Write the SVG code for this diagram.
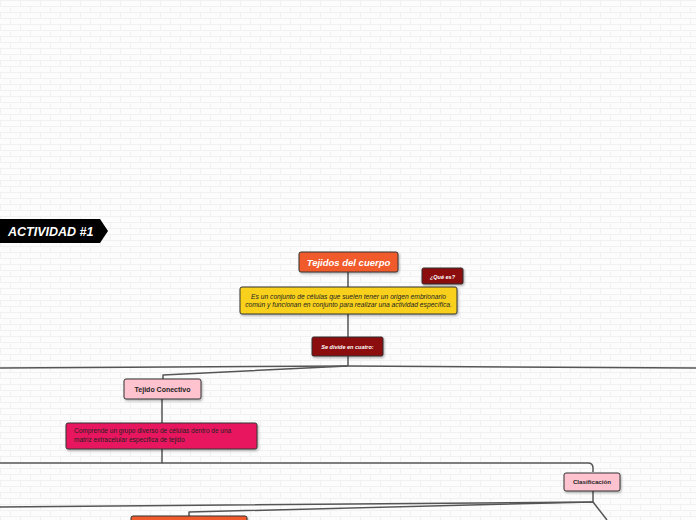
<svg xmlns="http://www.w3.org/2000/svg" width="696" height="520" viewBox="0 0 696 520">
<defs>
<pattern id="brick" width="40" height="12" patternUnits="userSpaceOnUse">
<rect width="40" height="12" fill="#fcfcfc"/>
<path d="M0 0.5H40M0 6.5H40M0.5 0V6M20.5 0V6M10.5 6V12M30.5 6V12" stroke="#f1f1f1" stroke-width="1" fill="none"/>
</pattern>
<filter id="sh" x="-10%" y="-20%" width="120%" height="160%">
<feDropShadow dx="1" dy="1.5" stdDeviation="1" flood-color="#000" flood-opacity="0.3"/>
</filter>
</defs>
<style>
.box{stroke:#333;stroke-width:1;filter:url(#sh)}
.ln{fill:none;stroke:#555;stroke-width:1.5;stroke-linejoin:round}
.t{font-family:"Liberation Sans",Arial,sans-serif}
</style>
<rect width="696" height="520" fill="url(#brick)"/>

<g id="connectors">
<path class="ln" d="M348 272V287"/>
<path class="ln" d="M348 314V338"/>
<path class="ln" d="M348 356V366"/>
<path class="ln" d="M0 368L348 366L696 368"/>
<path class="ln" d="M348 366L163 375V379"/>
<path class="ln" d="M162 399V423"/>
<path class="ln" d="M162 449V463H0"/>
<path class="ln" d="M162 463H588Q593 463 593 468V472"/>
<path class="ln" d="M593 491V502L0 507"/>
<path class="ln" d="M593 502L189 512V516"/>
<path class="ln" d="M593 502L607 520"/>
</g>

<g id="actividad">
<path d="M0 219H100L108 231L100 243H0Z" fill="#000"/>
<text class="t" x="8" y="235.5" font-size="12.5" font-weight="bold" font-style="italic" fill="#fff">ACTIVIDAD #1</text>
</g>

<g id="tejidos-del-cuerpo">
<rect class="box" x="299" y="252" width="99" height="20" rx="2" fill="#f15a29" stroke="#e04a1c"/>
<text class="t" x="348.5" y="265.5" font-size="9.5" font-weight="bold" font-style="italic" fill="#fff" text-anchor="middle">Tejidos del cuerpo</text>
</g>

<g id="que-es">
<rect class="box" x="422" y="268" width="41" height="16" rx="1.5" fill="#8b0d0d"/>
<text class="t" x="442.5" y="278.5" font-size="5.5" font-weight="bold" font-style="italic" fill="#fff" text-anchor="middle">¿Qué es?</text>
</g>

<g id="definicion">
<rect class="box" x="240" y="287" width="217" height="27" rx="2" fill="#f9d11c"/>
<text class="t" x="348.5" y="298.5" font-size="6.7" font-style="italic" fill="#222" text-anchor="middle">Es un conjunto de células que suelen tener un origen embrionario</text>
<text class="t" x="348.5" y="306.5" font-size="6.7" font-style="italic" fill="#222" text-anchor="middle">común y funcionan en conjunto para realizar una actividad específica.</text>
</g>

<g id="se-divide">
<rect class="box" x="312" y="337" width="71" height="19" rx="1.5" fill="#8b0d0d"/>
<text class="t" x="347.5" y="348.5" font-size="5.5" font-weight="bold" font-style="italic" fill="#fff" text-anchor="middle">Se divide en cuatro:</text>
</g>

<g id="tejido-conectivo">
<rect class="box" x="124" y="379" width="77" height="20" rx="2" fill="#ffc3cf"/>
<text class="t" x="162.5" y="391.5" font-size="7" font-weight="bold" fill="#222" text-anchor="middle">Tejido Conectivo</text>
</g>

<g id="conectivo-desc">
<rect class="box" x="66" y="423" width="191" height="26" rx="2" fill="#e8185e"/>
<text class="t" x="74" y="433" font-size="6.5" fill="#222">Comprende un grupo diverso de células dentro de una</text>
<text class="t" x="74" y="441.5" font-size="6.5" fill="#222">matriz extracelular específica de tejido</text>
</g>

<g id="clasificacion">
<rect class="box" x="564" y="473" width="56" height="18" rx="2" fill="#ffc3cf"/>
<text class="t" x="592" y="484" font-size="6.2" font-weight="bold" fill="#222" text-anchor="middle">Clasificación</text>
</g>

<g id="orange-node">
<rect class="box" x="131" y="516" width="116" height="14" rx="2" fill="#f15a29"/>
</g>
</svg>
